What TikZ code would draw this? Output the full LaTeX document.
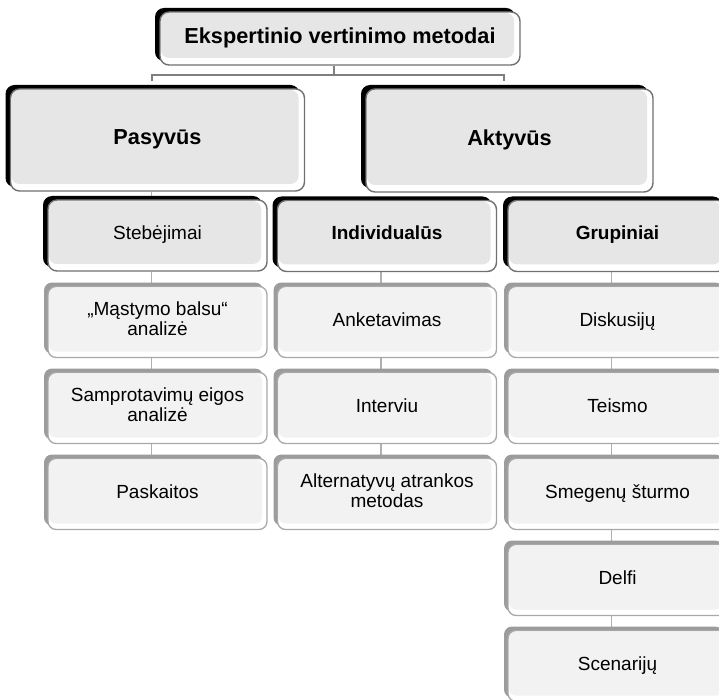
\documentclass[tikz,border=0pt]{standalone}
\usepackage{fontspec}
\setmainfont{Liberation Sans}
\usetikzlibrary{backgrounds}

\definecolor{fillA}{HTML}{E6E6E6}
\definecolor{fillB}{HTML}{F2F2F2}
\definecolor{edgeA}{HTML}{707070}
\definecolor{edgeB}{HTML}{A8A8A8}
\definecolor{shadeB}{HTML}{9C9C9C}
\definecolor{linkc}{HTML}{B0B0B0}
\definecolor{brackc}{HTML}{7F7F7F}

\tikzset{
  boxbase/.style={rectangle, fill=white, align=center, inner sep=2pt, text=black,
    execute at begin node=\strut, execute at end node=\strut},
  % boxes with a black offset shadow and a grey face
  darkbox/.style={boxbase, rounded corners=9pt, line width=1.4pt, draw=edgeA,
    preaction={fill=black, transform canvas={shift={(-5pt,4pt)}}},
    path picture={\fill[fillA, rounded corners=8pt]
      ([shift={(1pt,-1pt)}]path picture bounding box.north west) rectangle
      ([shift={(-6pt,7pt)}]path picture bounding box.south east);}},
  % list items with a grey offset shadow and a pale face
  lightbox/.style={boxbase, rounded corners=8pt, line width=1.3pt, draw=edgeB,
    preaction={fill=shadeB, transform canvas={shift={(-4pt,4pt)}}},
    path picture={\fill[fillB, rounded corners=7pt]
      ([shift={(1pt,-1pt)}]path picture bounding box.north west) rectangle
      ([shift={(-5pt,6pt)}]path picture bounding box.south east);}},
  cell/.style={minimum width=219pt, minimum height=71pt},
  bigtxt/.style={font=\bfseries\fontsize{21.7}{24}\selectfont},
  midtxt/.style={font=\bfseries\fontsize{19}{20}\selectfont},
  plaintxt/.style={font=\fontsize{19}{20}\selectfont},
  link/.style={draw=linkc, line width=1.4pt},
  bracket/.style={draw=brackc, line width=2pt},
}

\begin{document}
\begin{tikzpicture}[x=1pt, y=-1pt]
\useasboundingbox (0,0) rectangle (719,700);
\clip (0,0) rectangle (719,700);

% title and the two main branches
\node[darkbox, bigtxt, minimum width=360pt, minimum height=53pt] (head) at (340,38.5) {Ekspertinio vertinimo metodai};
\node[darkbox, bigtxt, minimum width=294pt, minimum height=102pt] (pas) at (157.5,140) {Pasyvūs};
\node[darkbox, bigtxt, minimum width=287pt, minimum height=103pt] (akt) at (509.5,140.5) {Aktyvūs};

% passive methods
\node[darkbox, plaintxt, cell] (steb) at (157.5,235.5) {Stebėjimai};
\node[lightbox, plaintxt, cell] (mast) at (157.5,322) {„Mąstymo balsu“\\analizė};
\node[lightbox, plaintxt, cell] (samp) at (157.5,408) {Samprotavimų eigos\\analizė};
\node[lightbox, plaintxt, cell] (pask) at (157.5,494) {Paskaitos};

% individual active methods
\node[darkbox, midtxt, cell] (ind) at (387,236) {Individualūs};
\node[lightbox, plaintxt, cell] (anke) at (387,322) {Anketavimas};
\node[lightbox, plaintxt, cell] (intv) at (387,408) {Interviu};
\node[lightbox, plaintxt, cell] (alt) at (387,494) {Alternatyvų atrankos\\metodas};

% group active methods
\node[darkbox, midtxt, cell] (grp) at (617.5,236) {Grupiniai};
\node[lightbox, plaintxt, cell] (disk) at (617.5,322) {Diskusijų};
\node[lightbox, plaintxt, cell] (teis) at (617.5,408) {Teismo};
\node[lightbox, plaintxt, cell] (smeg) at (617.5,494) {Smegenų šturmo};
\node[lightbox, plaintxt, cell] (delf) at (617.5,580) {Delfi};
\node[lightbox, plaintxt, cell] (scen) at (617.5,666) {Scenarijų};

\begin{scope}[on background layer]
  % bracket below the title
  \coordinate (hdT) at ([xshift=-6pt]head.south);
  \coordinate (pasT) at ([xshift=-6pt]pas.north);
  \coordinate (aktT) at ([xshift=-6pt]akt.north);
  \coordinate (brY) at (0,75);
  \draw[bracket] (hdT) -- (hdT |- brY);
  \draw[bracket] ([yshift=7pt]pasT) |- (aktT |- brY) -- ([yshift=7pt]aktT);
  % column links
  \foreach \a/\b in {pas/steb, steb/mast, mast/samp, samp/pask,
                     ind/anke, anke/intv, intv/alt,
                     grp/disk, disk/teis, teis/smeg, smeg/delf, delf/scen}
    \draw[link] ([xshift=-6pt]\a.south) -- ([xshift=-6pt]\b.north);
\end{scope}
\end{tikzpicture}
\end{document}
